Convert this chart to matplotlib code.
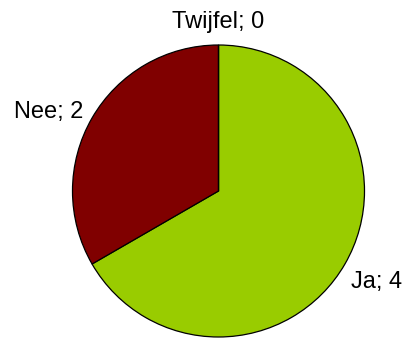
import matplotlib.pyplot as plt
import numpy as np

plt.rcParams['font.family'] = ['Liberation Sans', 'DejaVu Sans']

categories = ["Ja", "Nee", "Twijfel"]
values = [4, 2, 0]
colors = ["#99CC00", "#800000", "#FFFFFF"]

# label placement (distance in radii, angle shift in degrees) per slice
label_dist = [1.25, 1.28, 1.155]
label_shift = [0, 5, 0]

fig = plt.figure(figsize=(4.07, 3.38), dpi=100)
ax = fig.add_axes([0, 0, 1, 1])

cx, cy, r = 218.5, 147, 146
wedges, texts = ax.pie(values, colors=colors, startangle=90, counterclock=False,
                       center=(cx, cy), radius=r,
                       wedgeprops=dict(edgecolor='black', linewidth=0.9),
                       labels=[f"{c}; {v}" for c, v in zip(categories, values)],
                       textprops=dict(fontsize=17))

for t, w, d, s in zip(texts, wedges, label_dist, label_shift):
    ang = np.deg2rad((w.theta1 + w.theta2) / 2 + s)
    t.set_ha('center')
    t.set_va('center')
    t.set_position((cx + d * r * np.cos(ang), cy + d * r * np.sin(ang)))

ax.set_xlim(0, 407)
ax.set_ylim(0, 338)
ax.set_aspect('equal')
ax.axis('off')

fig.savefig("out.png", dpi=100)
